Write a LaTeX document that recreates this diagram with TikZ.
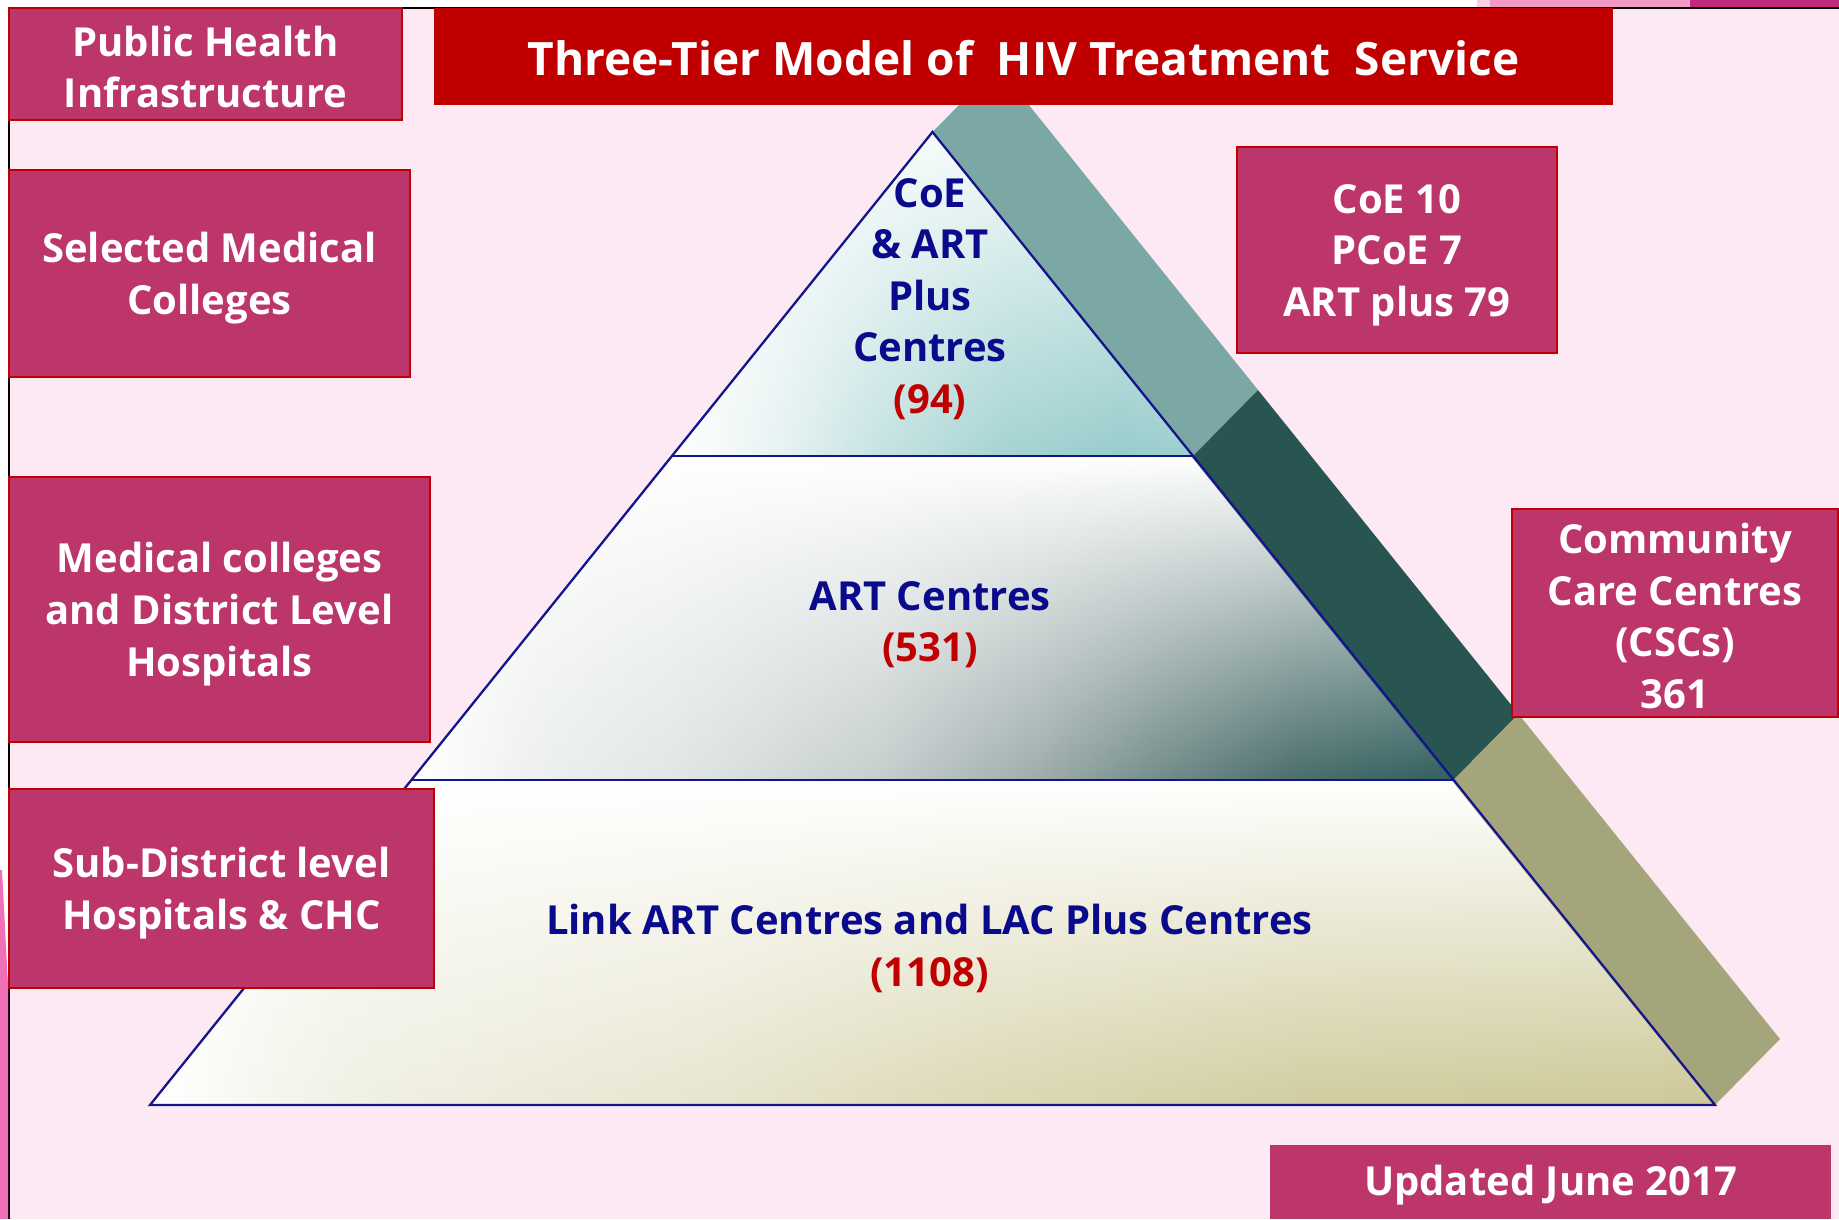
\documentclass[tikz,border=0pt]{standalone}
\usepackage{fontspec}
\setmainfont{Open Sans}
\usetikzlibrary{fadings}
\definecolor{bgpink}{RGB}{253,233,243}
\definecolor{boxmag}{RGB}{188,53,107}
\definecolor{titlered}{RGB}{192,0,0}
\definecolor{navytxt}{RGB}{10,10,140}
\definecolor{edgenavy}{RGB}{20,20,140}
\definecolor{bandA}{RGB}{123,167,164}
\definecolor{bandB}{RGB}{40,84,82}
\definecolor{bandC}{RGB}{164,165,122}
\definecolor{decoA}{RGB}{243,154,200}
\definecolor{decoB}{RGB}{192,40,124}
\definecolor{decoC}{RGB}{240,112,184}
\pgfdeclarehorizontalshading{tierAsh}{100bp}{color(0bp)=(white); color(25bp)=(white); color(35bp)=(rgb,255:red,232;green,243;blue,243); color(45bp)=(rgb,255:red,198;green,227;blue,227); color(57bp)=(rgb,255:red,165;green,212;blue,211); color(68bp)=(rgb,255:red,152;green,205;blue,204); color(75bp)=(rgb,255:red,158;green,208;blue,207); color(100bp)=(rgb,255:red,158;green,208;blue,207)}
\pgfdeclarehorizontalshading{tierBsh}{100bp}{color(0bp)=(white); color(25bp)=(white); color(31bp)=(rgb,255:red,238;green,240;blue,240); color(37.5bp)=(rgb,255:red,226;green,230;blue,230); color(47.5bp)=(rgb,255:red,198;green,206;blue,206); color(55bp)=(rgb,255:red,158;green,173;blue,172); color(61bp)=(rgb,255:red,115;green,140;blue,138); color(67.5bp)=(rgb,255:red,75;green,110;blue,108); color(75bp)=(rgb,255:red,48;green,96;blue,94); color(100bp)=(rgb,255:red,48;green,96;blue,94)}
\pgfdeclarehorizontalshading{tierCsh}{100bp}{color(0bp)=(white); color(25bp)=(white); color(31.5bp)=(rgb,255:red,240;green,240;blue,228); color(42.5bp)=(rgb,255:red,232;green,230;blue,208); color(52bp)=(rgb,255:red,219;green,216;blue,180); color(62bp)=(rgb,255:red,209;green,205;blue,160); color(75bp)=(rgb,255:red,205;green,201;blue,152); color(100bp)=(rgb,255:red,205;green,201;blue,152)}
\tikzfading[name=fadeA, top color=transparent!10, middle color=transparent!90, bottom color=transparent!100]
\tikzfading[name=fadeB, top color=transparent!0, middle color=transparent!92, bottom color=transparent!100]
\tikzfading[name=fadeC, top color=transparent!0, middle color=transparent!85, bottom color=transparent!100]
\tikzset{
  infobox/.style={fill=boxmag, draw=titlered, line width=1.5pt, inner sep=0pt},
  boxtext/.style={text=white, font=\fontsize{40}{51.6}\selectfont\bfseries, align=center, inner sep=0pt},
  tiertext/.style={text=navytxt, font=\fontsize{40}{51.6}\selectfont\bfseries, align=center, inner sep=0pt},
  tieredge/.style={draw=edgenavy, line width=2.3pt, line join=miter},
}
\newcommand{\rnum}[1]{\textcolor{titlered}{#1}}
\begin{document}
\begin{tikzpicture}[x=1pt,y=-1pt]
\useasboundingbox (0,0) rectangle (1839,1219);
% background
\fill[white] (0,0) rectangle (1839,1219);
\fill[bgpink] (9,8) rectangle (1839,1219);
\draw[black, line width=2pt] (9,1219) -- (9,8) -- (1839,8);
\fill[decoA!50] (1477,0) rectangle (1490,7);
\fill[decoA] (1490,0) rectangle (1690,7);
\fill[decoB] (1690,0) rectangle (1839,7);
\fill[decoC] (0,870) -- (2,870) -- (8,985) -- (8,1219) -- (0,1219) -- cycle;
% side band
\fill[bandA] (932.5,132) -- (997.5,66) -- (1258,390) -- (1193,456) -- cycle;
\fill[bandB] (1193,456) -- (1258,390) -- (1518.5,714) -- (1453.5,780) -- cycle;
\fill[bandC] (1453.5,780) -- (1518.5,714) -- (1780,1039) -- (1715,1105) -- cycle;
% tiers
\shade[shading=tierAsh] (932.5,132) -- (1193,456) -- (672,456) -- cycle;
\fill[white, path fading=fadeA] (932.5,132) -- (1193,456) -- (672,456) -- cycle;
\shade[shading=tierBsh] (672,456) -- (1193,456) -- (1453.5,780) -- (411.5,780) -- cycle;
\fill[white, path fading=fadeB] (672,456) -- (1193,456) -- (1453.5,780) -- (411.5,780) -- cycle;
\shade[shading=tierCsh] (411.5,780) -- (1453.5,780) -- (1715,1105) -- (150,1105) -- cycle;
\fill[white, path fading=fadeC] (411.5,780) -- (1453.5,780) -- (1715,1105) -- (150,1105) -- cycle;
\draw[tieredge] (932.5,132) -- (1715,1105) -- (150,1105) -- cycle;
\draw[tieredge] (672,456) -- (1193,456);
\draw[tieredge] (411.5,780) -- (1453.5,780);
% title
\node[fill=titlered, minimum width=1179pt, minimum height=97pt, inner sep=0pt] (title) at (1023.5,56.5) {};
\node[text=white, inner sep=0pt, font=\fontsize{46}{52}\selectfont\bfseries] (titletxt)
  at ([yshift=-2pt]title.center) {Three-Tier Model of\ \ HIV Treatment\ \ Service};
% left boxes
\node[infobox, minimum width=393pt, minimum height=112pt] (phi) at (205.5,64) {};
\node[boxtext] (phitxt) at ([yshift=-3pt]phi.center) {Public Health\\Infrastructure};
\node[infobox, minimum width=401pt, minimum height=207pt] (smc) at (209.5,273.5) {};
\node[boxtext] (smctxt) at ([yshift=-4.5pt]smc.center) {Selected Medical\\Colleges};
\node[infobox, minimum width=421pt, minimum height=265pt] (mcd) at (219.5,609.5) {};
\node[boxtext] (mcdtxt) at ([yshift=-4.5pt]mcd.center) {Medical colleges\\and District Level\\Hospitals};
\node[infobox, minimum width=425pt, minimum height=199pt] (sdh) at (221.5,888.5) {};
\node[boxtext] (sdhtxt) at ([yshift=-4.5pt]sdh.center) {Sub-District level\\Hospitals \& CHC};
% right boxes
\node[infobox, minimum width=320pt, minimum height=206pt] (coe) at (1397,250) {};
\node[boxtext] (coetxt) at ([yshift=-5pt]coe.center) {CoE 10\\PCoE 7\\ART plus 79};
\node[infobox, minimum width=326pt, minimum height=208pt] (csc) at (1675,613) {};
\node[boxtext] (csctxt) at ([yshift=-3pt]csc.center) {Community\\Care Centres\\(CSCs)\\361};
\node[infobox, draw=none, minimum width=561pt, minimum height=74pt] (upd) at (1550.5,1182) {};
\node[boxtext] (updtxt) at ([yshift=-3.5pt]upd.center) {Updated June 2017};
% tier texts
\node[tiertext] (t1) at (930,299) {CoE\\\& ART\\Plus\\Centres\\\rnum{(94)}};
\node[tiertext] (t2) at (930,624.5) {ART Centres\\\rnum{(531)}};
\node[tiertext] (t3) at (929.5,948.5) {Link ART Centres and LAC Plus Centres\\\rnum{(1108)}};
\end{tikzpicture}
\end{document}
